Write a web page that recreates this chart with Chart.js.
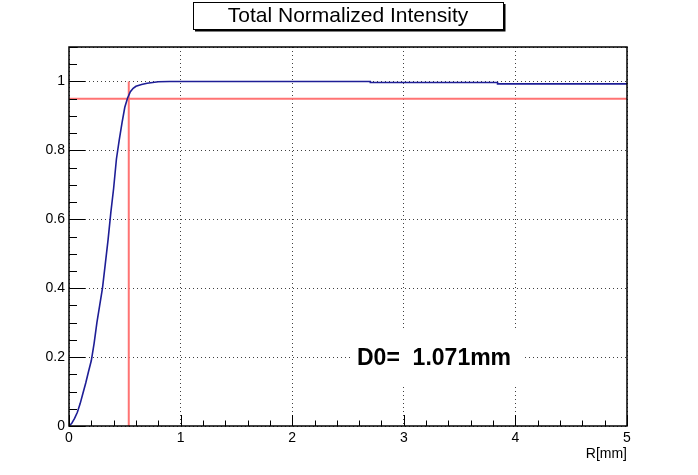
<!DOCTYPE html>
<html>
<head>
<meta charset="utf-8">
<script src="https://cdn.jsdelivr.net/npm/chart.js@4.4.1/dist/chart.umd.min.js"></script>
<style>
  html, body { margin: 0; padding: 0; background: #fff; }
  #wrap { width: 698px; height: 475px; }
</style>
</head>
<body>
<div id="wrap"><canvas id="grafico" width="698" height="475"></canvas></div>
<script>
// values
var titleText = 'Total Normalized Intensity';
var xAxisTitle = 'R[mm]';
var rValues = [0, 0.025, 0.05, 0.075, 0.1, 0.125, 0.15, 0.175, 0.2, 0.225, 0.25, 0.275, 0.3,
  0.325, 0.35, 0.375, 0.4, 0.425, 0.45, 0.475, 0.5, 0.525, 0.55, 0.575, 0.6, 0.65, 0.7,
  0.75, 0.8, 0.9, 2.7, 2.7, 3.84, 3.84, 5];
var intensity = [0, 0.008, 0.022, 0.040, 0.065, 0.095, 0.125, 0.158, 0.19, 0.24, 0.30, 0.35, 0.40,
  0.47, 0.54, 0.62, 0.69, 0.775, 0.83, 0.88, 0.925, 0.952, 0.970, 0.980, 0.986, 0.991, 0.995,
  0.997, 0.999, 1.0, 1.0, 0.997, 0.997, 0.993, 0.993];
var threshold = 0.95;
var d0 = 1.071;
var xTicks = [0, 1, 2, 3, 4, 5];
var xTickLabels = ['0', '1', '2', '3', '4', '5'];
var yTicks = [0, 0.2, 0.4, 0.6, 0.8, 1];
var yTickLabels = ['0', '0.2', '0.4', '0.6', '0.8', '1'];

var FONT = '"Liberation Sans", Arial, Helvetica, sans-serif';

var curve = rValues.map(function(r, i) { return {x: r, y: intensity[i]}; });

// frame, ticks, labels, title and D0 box
var rootStyle = {
  id: 'rootStyle',
  afterDraw: function(chart) {
    var ctx = chart.ctx, a = chart.chartArea;
    var xs = chart.scales.x, ys = chart.scales.y;
    ctx.save();

    // D0 text with white box
    var d0Text = 'D0=  ' + d0.toFixed(3) + 'mm';
    ctx.fillStyle = '#fff';
    ctx.fillRect(350, 330, 175, 55);
    ctx.fillStyle = '#000';
    ctx.font = 'bold 23px ' + FONT;
    ctx.textAlign = 'left';
    ctx.textBaseline = 'alphabetic';
    ctx.fillText(d0Text, 357, 365);

    // ticks
    ctx.strokeStyle = '#000';
    ctx.lineWidth = 1;
    ctx.beginPath();
    var i, v, p;
    for (i = 0; i <= 22; i++) {
      v = i * 0.05;
      p = Math.round(ys.getPixelForValue(v)) + 0.5;
      var len = (i % 4 === 0) ? 16 : 8;
      ctx.moveTo(a.left, p); ctx.lineTo(a.left + len, p);
    }
    for (i = 0; i <= 25; i++) {
      v = i * 0.2;
      p = Math.round(xs.getPixelForValue(v)) + 0.5;
      var lx = (i % 5 === 0) ? 11 : 5.5;
      ctx.moveTo(p, a.bottom); ctx.lineTo(p, a.bottom - lx);
    }
    ctx.stroke();

    // frame
    ctx.lineWidth = 1.5;
    ctx.strokeRect(a.left, a.top, a.right - a.left, a.bottom - a.top);

    // tick labels
    ctx.font = '14px ' + FONT;
    ctx.textAlign = 'right';
    ctx.textBaseline = 'middle';
    yTicks.forEach(function(t, k) {
      ctx.fillText(yTickLabels[k], a.left - 4, ys.getPixelForValue(t));
    });
    ctx.textAlign = 'center';
    ctx.textBaseline = 'top';
    xTicks.forEach(function(t, k) {
      ctx.fillText(xTickLabels[k], xs.getPixelForValue(t), a.bottom + 5);
    });
    ctx.textAlign = 'right';
    ctx.fillText(xAxisTitle, a.right, a.bottom + 21);

    // title box
    ctx.fillStyle = '#fff';
    ctx.fillRect(193, 2, 310, 27);
    ctx.lineWidth = 1;
    ctx.strokeStyle = '#000';
    ctx.strokeRect(193.5, 2.5, 310, 27);
    ctx.lineWidth = 2;
    ctx.beginPath();
    ctx.moveTo(504.5, 4); ctx.lineTo(504.5, 30.5); ctx.lineTo(195, 30.5);
    ctx.stroke();
    ctx.fillStyle = '#000';
    ctx.font = '21px ' + FONT;
    ctx.textAlign = 'center';
    ctx.textBaseline = 'middle';
    ctx.fillText(titleText, 348, 16.5);

    ctx.restore();
  }
};

var chart = new Chart(document.getElementById('grafico').getContext('2d'), {
  type: 'line',
  data: {
    datasets: [
      {
        label: 'intensity',
        data: curve,
        borderColor: 'rgb(30,30,150)',
        borderWidth: 1.6,
        pointRadius: 0,
        tension: 0,
        fill: false
      },
      {
        label: 'threshold',
        data: [{x: 0, y: threshold}, {x: 5, y: threshold}],
        borderColor: 'rgb(255,115,115)',
        borderWidth: 2,
        pointRadius: 0
      },
      {
        label: 'radius',
        data: [{x: d0 / 2, y: 0}, {x: d0 / 2, y: 1}],
        borderColor: 'rgb(255,115,115)',
        borderWidth: 2,
        pointRadius: 0
      }
    ]
  },
  options: {
    responsive: false,
    animation: false,
    layout: { padding: { left: 69, right: 71, top: 47, bottom: 49 } },
    plugins: { legend: { display: false }, title: { display: false }, tooltip: { enabled: false } },
    scales: {
      x: {
        type: 'linear', min: 0, max: 5,
        ticks: { display: false, stepSize: 1 },
        border: { display: false, dash: [1, 3] },
        grid: { color: 'rgba(0,0,0,0.75)', lineWidth: 1, drawTicks: false }
      },
      y: {
        type: 'linear', min: 0, max: 1.1,
        ticks: { display: false, stepSize: 0.2 },
        border: { display: false, dash: [1, 3] },
        grid: { color: 'rgba(0,0,0,0.75)', lineWidth: 1, drawTicks: false }
      }
    }
  },
  plugins: [rootStyle]
});
</script>
</body>
</html>
